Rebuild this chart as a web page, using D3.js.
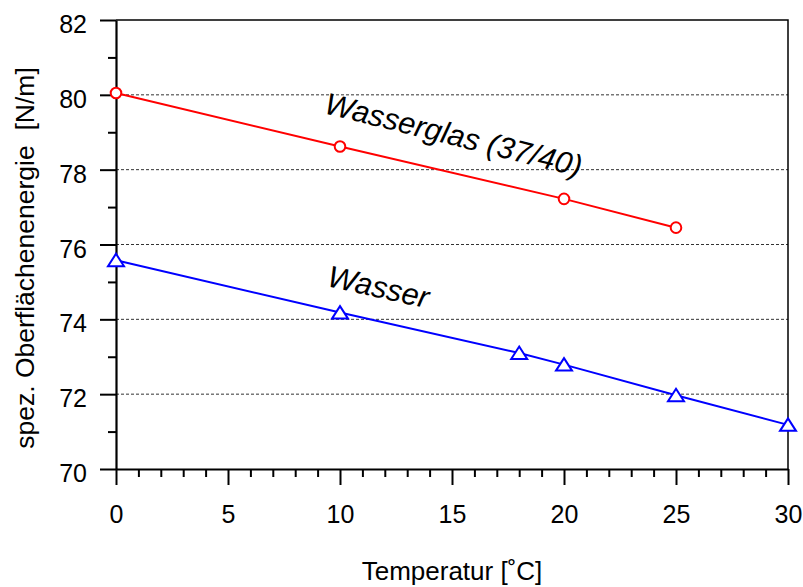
<!DOCTYPE html>
<html>
<head>
<meta charset="utf-8">
<script src="https://cdn.jsdelivr.net/npm/d3@7"></script>
<style>
  body { margin: 0; background: #fff; }
  text { font-family: "Liberation Sans", Arial, sans-serif; fill: #000; }
</style>
</head>
<body>
<script>
// 幅と高さ
const w = 803;
const h = 587;

// データ
const tempGlas = [0, 10, 20, 25];
const wasserglas = [80.05, 78.62, 77.22, 76.45];
const tempWasser = [0, 10, 18, 20, 25, 30];
const wasser = [75.58, 74.18, 73.1, 72.79, 71.97, 71.18];

// 目盛り
const xMajor = [0, 5, 10, 15, 20, 25, 30];
const xMinor = d3.range(0, 31, 1).filter(d => d % 5 !== 0);
const yMajor = [70, 72, 74, 76, 78, 80, 82];
const yMinor = [71, 73, 75, 77, 79, 81];
const yGrid = [72, 74, 76, 78, 80];

const xScale = d3.scaleLinear().domain([0, 30]).range([116, 788]);
const yScale = d3.scaleLinear().domain([70, 82]).range([469, 20]);

const svg = d3.select("body").append("svg").attr("width", w).attr("height", h);

// グリッド線（破線）
svg.append("g")
  .selectAll("line")
  .data(yGrid)
  .enter()
  .append("line")
  .attr("x1", xScale(0))
  .attr("x2", xScale(30))
  .attr("y1", d => yScale(d))
  .attr("y2", d => yScale(d))
  .attr("stroke", "#333")
  .attr("stroke-width", 1)
  .attr("stroke-dasharray", "3,2");

// 上と右の枠
svg.append("path")
  .attr("d", "M" + xScale(0) + "," + yScale(82) + "H" + xScale(30) + "V" + yScale(70))
  .attr("fill", "none")
  .attr("stroke", "#000")
  .attr("stroke-width", 1.5);

// X軸
const xAxis = d3.axisBottom(xScale).tickValues(xMajor).tickSize(16).tickPadding(20).tickSizeOuter(0);
const xAxisMinor = d3.axisBottom(xScale).tickValues(xMinor).tickSize(8).tickFormat("").tickSizeOuter(0);

const gx = svg.append("g").attr("transform", "translate(0," + yScale(70) + ")").call(xAxis);
svg.append("g").attr("transform", "translate(0," + yScale(70) + ")").call(xAxisMinor)
  .select(".domain").remove();

// Y軸
const yAxis = d3.axisLeft(yScale).tickValues(yMajor).tickSize(16).tickPadding(13).tickSizeOuter(0);
const yAxisMinor = d3.axisLeft(yScale).tickValues(yMinor).tickSize(8).tickFormat("").tickSizeOuter(0);

const gy = svg.append("g").attr("transform", "translate(" + xScale(0) + ",0)").call(yAxis);
svg.append("g").attr("transform", "translate(" + xScale(0) + ",0)").call(yAxisMinor)
  .select(".domain").remove();

svg.selectAll(".domain").attr("stroke-width", 2.2).attr("stroke", "#000");
svg.selectAll(".tick line").attr("stroke-width", 2).attr("stroke", "#000");
svg.selectAll(".tick text")
  .attr("font-family", "Liberation Sans, Arial, sans-serif")
  .attr("font-size", "25px")
  .attr("fill", "#000");
gy.selectAll(".tick text").attr("dy", "0.5em");

// 軸タイトル
svg.append("text")
  .attr("x", 452)
  .attr("y", 580)
  .attr("text-anchor", "middle")
  .attr("font-size", "26px")
  .text("Temperatur [˚C]");

svg.append("text")
  .attr("transform", "translate(34,258) rotate(-90)")
  .attr("text-anchor", "middle")
  .attr("font-size", "26.5px")
  .style("white-space", "pre")
  .attr("xml:space", "preserve")
  .text("spez. Oberflächenenergie  [N/m]");

// 線
const line = d3.line()
  .x(d => xScale(d[0]))
  .y(d => yScale(d[1]));

const glasData = tempGlas.map((t, i) => [t, wasserglas[i]]);
const wasserData = tempWasser.map((t, i) => [t, wasser[i]]);

svg.append("path")
  .datum(glasData)
  .attr("d", line)
  .attr("fill", "none")
  .attr("stroke", "#ff0000")
  .attr("stroke-width", 2);

svg.append("path")
  .datum(wasserData)
  .attr("d", line)
  .attr("fill", "none")
  .attr("stroke", "#0000ff")
  .attr("stroke-width", 2);

// マーカー
svg.append("g")
  .selectAll("circle")
  .data(glasData)
  .enter()
  .append("circle")
  .attr("cx", d => xScale(d[0]))
  .attr("cy", d => yScale(d[1]))
  .attr("r", 5.3)
  .attr("fill", "#fff")
  .attr("stroke", "#ff0000")
  .attr("stroke-width", 2);

svg.append("g")
  .selectAll("path")
  .data(wasserData)
  .enter()
  .append("path")
  .attr("d", "M0,-6.5L8,6L-8,6Z")
  .attr("transform", d => "translate(" + xScale(d[0]) + "," + yScale(d[1]) + ")")
  .attr("fill", "#fff")
  .attr("stroke", "#0000ff")
  .attr("stroke-width", 2);

// ラベル
svg.append("text")
  .attr("transform", "translate(323,113) rotate(14)")
  .attr("font-size", "30.5px")
  .attr("font-style", "italic")
  .text("Wasserglas (37/40)");

svg.append("text")
  .attr("transform", "translate(326,286) rotate(12.5)")
  .attr("font-size", "30.5px")
  .attr("font-style", "italic")
  .text("Wasser");
</script>
</body>
</html>
